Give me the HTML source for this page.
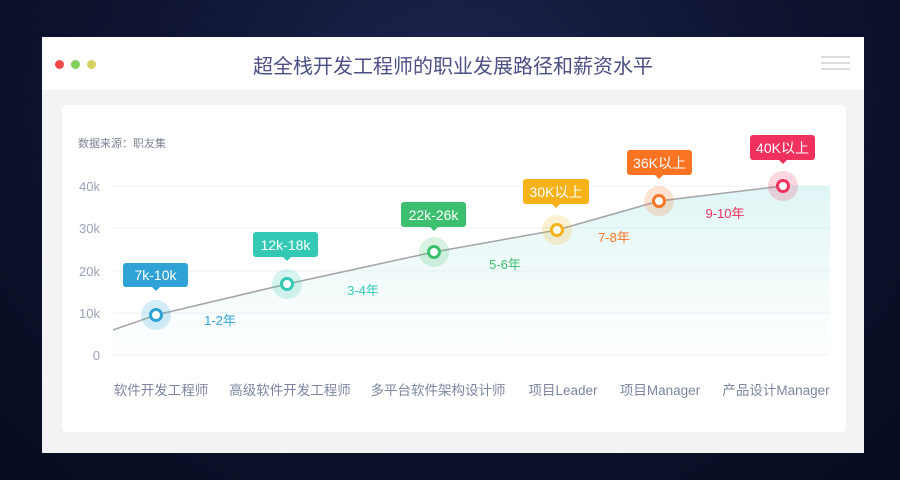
<!DOCTYPE html>
<html><head><meta charset="utf-8"><style>
body{margin:0;width:900px;height:480px;overflow:hidden;background:radial-gradient(ellipse at 50% 20%,#1c2550 0%,#0e1430 50%,#080c20 100%);font-family:"Liberation Sans","Noto Sans CJK SC",sans-serif;position:relative}
.win{position:absolute;left:42px;top:37px;width:822px;height:416px;background:#f3f3f5}
.bar{position:absolute;left:0;top:0;width:822px;height:53px;background:#fff}
.dot{position:absolute;top:23px;width:9px;height:9px;border-radius:50%}
.title{position:absolute;left:0;right:0;top:13px;text-align:center;font-size:20px;color:#4a4f86}
.card{position:absolute;left:20px;top:68px;width:784px;height:327px;background:#fff;border-radius:4px}
.m{position:absolute;right:14px;width:29px;height:2px;background:#ddd}
</style></head><body>
<div class="win">
 <div class="bar">
  <div class="dot" style="left:13px;background:#f44848"></div>
  <div class="dot" style="left:29px;background:#7fd05a"></div>
  <div class="dot" style="left:45px;background:#d8d060"></div>
  <div class="title">超全栈开发工程师的职业发展路径和薪资水平</div>
  <div class="m" style="top:19px"></div><div class="m" style="top:25px"></div><div class="m" style="top:31px"></div>
 </div>
 <div class="card"></div>
</div>
<svg width="900" height="480" style="position:absolute;left:0;top:0" font-family="Liberation Sans, Noto Sans CJK SC, sans-serif">
<defs><linearGradient id="g" x1="0" y1="0" x2="0" y2="1"><stop offset="0" stop-color="#c8eeee" stop-opacity="0.6"/><stop offset="1" stop-color="#e6f6f6" stop-opacity="0.1"/></linearGradient></defs>
<text x="78" y="147" font-size="11" fill="#7c8493">数据来源：职友集</text>
<g stroke="#eef0f5" stroke-width="1">
<line x1="113" y1="186" x2="830" y2="186"/><line x1="113" y1="228" x2="830" y2="228"/><line x1="113" y1="271" x2="830" y2="271"/><line x1="113" y1="313" x2="830" y2="313"/><line x1="113" y1="355" x2="830" y2="355"/></g>
<g font-size="13" fill="#9aa2b8" text-anchor="end">
<text x="100" y="191">40k</text><text x="100" y="233">30k</text><text x="100" y="276">20k</text><text x="100" y="318">10k</text><text x="100" y="360">0</text></g>
<path d="M113,330 L156,315 L287,284 L434,252 L557,230 L659,201 L783,186 L830,186 L830,355 L113,355Z" fill="url(#g)"/>
<polyline points="113,330 156,315 287,284 434,252 557,230 659,201 783,186" fill="none" stroke="#a4a4a4" stroke-width="1.5"/>
<g font-size="13.5" fill="#7c86a0" text-anchor="middle">
<text x="161" y="395">软件开发工程师</text><text x="290" y="395">高级软件开发工程师</text><text x="438" y="395">多平台软件架构设计师</text><text x="563" y="395">项目Leader</text><text x="660" y="395">项目Manager</text><text x="776" y="395">产品设计Manager</text></g>
<g font-size="13" text-anchor="middle">
<text x="220" y="325" fill="#2fa3d6">1-2年</text><text x="363" y="295" fill="#33c9b4">3-4年</text><text x="505" y="269" fill="#3cbf6e">5-6年</text><text x="614" y="242" fill="#fa7424">7-8年</text><text x="725" y="218" fill="#f0315d">9-10年</text></g>
<g id="pts">
<circle cx="156" cy="315" r="15" fill="#2fa3d6" opacity=".2"/><circle cx="156" cy="315" r="5.5" fill="#fff" stroke="#2fa3d6" stroke-width="3"/>
<circle cx="287" cy="284" r="15" fill="#33c9b4" opacity=".2"/><circle cx="287" cy="284" r="5.5" fill="#fff" stroke="#33c9b4" stroke-width="3"/>
<circle cx="434" cy="252" r="15" fill="#3cbf6e" opacity=".2"/><circle cx="434" cy="252" r="5.5" fill="#fff" stroke="#3cbf6e" stroke-width="3"/>
<circle cx="557" cy="230" r="15" fill="#f7b21a" opacity=".2"/><circle cx="557" cy="230" r="5.5" fill="#fff" stroke="#f7b21a" stroke-width="3"/>
<circle cx="659" cy="201" r="15" fill="#fa7424" opacity=".2"/><circle cx="659" cy="201" r="5.5" fill="#fff" stroke="#fa7424" stroke-width="3"/>
<circle cx="783" cy="186" r="15" fill="#f0315d" opacity=".2"/><circle cx="783" cy="186" r="5.5" fill="#fff" stroke="#f0315d" stroke-width="3"/>
</g>
<g font-size="14" fill="#fff" text-anchor="middle">
<rect x="123" y="263" width="65" height="24" rx="3" fill="#2fa3d6"/><path d="M152,287 L156,291 L160,287Z" fill="#2fa3d6"/><text x="155.5" y="280">7k-10k</text>
<rect x="253" y="232" width="65" height="25" rx="3" fill="#33c9b4"/><path d="M283,257 L287,261 L291,257Z" fill="#33c9b4"/><text x="285.5" y="250">12k-18k</text>
<rect x="401" y="202" width="65" height="25" rx="3" fill="#3cbf6e"/><path d="M430,227 L434,231 L438,227Z" fill="#3cbf6e"/><text x="433.5" y="220">22k-26k</text>
<rect x="523" y="179" width="66" height="25" rx="3" fill="#f7b21a"/><path d="M552,204 L556,208 L560,204Z" fill="#f7b21a"/><text x="556" y="197">30K以上</text>
<rect x="627" y="150" width="65" height="25" rx="3" fill="#fa7424"/><path d="M655,175 L659,179 L663,175Z" fill="#fa7424"/><text x="659.5" y="168">36K以上</text>
<rect x="750" y="135" width="65" height="25" rx="3" fill="#f0315d"/><path d="M779,160 L783,164 L787,160Z" fill="#f0315d"/><text x="782.5" y="153">40K以上</text>
</g>
</svg>
</body></html>
